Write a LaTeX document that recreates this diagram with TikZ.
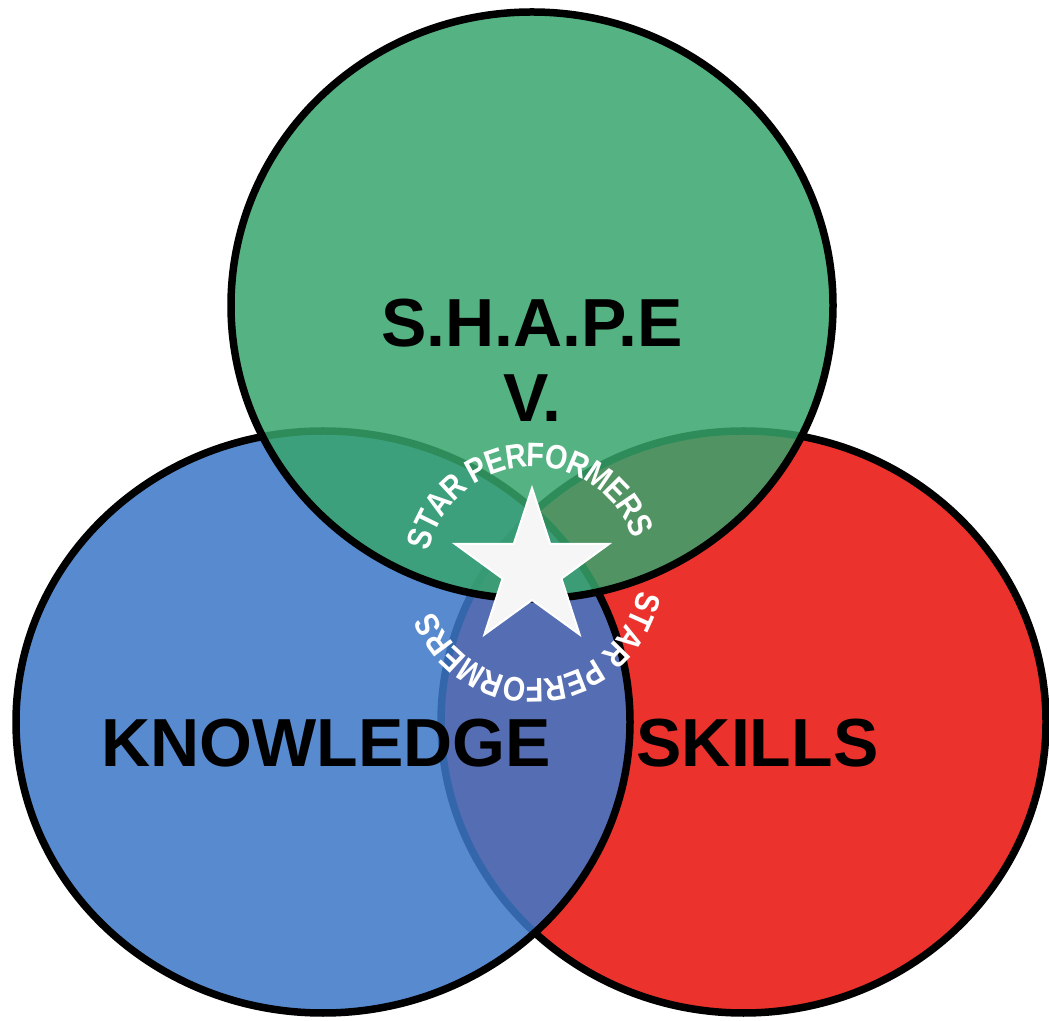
\documentclass[tikz,border=0pt]{standalone}
\usepackage{fontspec}
\usepackage{graphicx}
\setmainfont{Liberation Sans}
\definecolor{gfill}{RGB}{55,165,108}
\definecolor{bfill}{RGB}{61,119,200}
\definecolor{rfill}{RGB}{236,50,45}
\definecolor{starfill}{RGB}{246,246,246}
\begin{document}
\begin{tikzpicture}[x=1pt,y=1pt,
  venn/.style={line width=7.5pt, draw=black},
  biglabel/.style={font=\fontsize{68}{75}\selectfont\bfseries, text=black, anchor=base, inner sep=0pt},
  arcletter/.style={font=\fontsize{34}{34}\selectfont\bfseries, text=white, anchor=base, inner sep=0pt}]
\useasboundingbox (0,0) rectangle (1049,1020);
% circles (red, blue, green in drawing order)
\path[venn, fill=rfill] (743.5,298) ellipse [x radius=302.5, y radius=291];
\path[venn, fill=bfill, fill opacity=0.86] (323,298) ellipse [x radius=307, y radius=291];
\path[venn, fill=gfill, fill opacity=0.85] (532,714.5) ellipse [x radius=301, y radius=293.5];
% labels
\node[biglabel] (shape) at (532,673) {S.H.A.P.E};
\node[biglabel] (v) at (532,598) {V.};
\node[biglabel] (know) at (326,253) {KNOWLEDGE};
\node[biglabel] (skills) at (757.5,253) {SKILLS};
% star
\begin{scope}[shift={(532,451)}]
\draw[fill=starfill, draw=white, line width=2pt, line join=miter]
  (90:81) -- (126:31) -- (162:81) -- (198:31) -- (234:81) -- (270:31)
  -- (306:81) -- (342:31) -- (18:81) -- (54:31) -- cycle;
\end{scope}
% curved texts "STAR PERFORMERS", letters set one by one along a circle
\foreach \c/\l [count=\i] in {-4.695/S,-4.056/T,-3.389/A,-2.667/R,-1.695/P,-1.028/E,-0.333/R,0.334/F,1.028/O,1.778/R,2.556/M,3.306/E,4.0/R,4.695/S}{
  \pgfmathsetmacro\ta{93.5-\c*14.8}
  \pgfmathsetmacro\ra{\ta-90}
  \node[arcletter, rotate=\ra] (top\i) at ([shift={(533,447)}]\ta:106) {\scalebox{0.85}[1]{\l}};
  \pgfmathsetmacro\tb{-84-\c*14.8}
  \pgfmathsetmacro\rb{\tb-90}
  \node[arcletter, rotate=\rb] (bot\i) at ([shift={(533,447)}]\tb:106) {\scalebox{0.85}[1]{\l}};
}
\end{tikzpicture}
\end{document}
